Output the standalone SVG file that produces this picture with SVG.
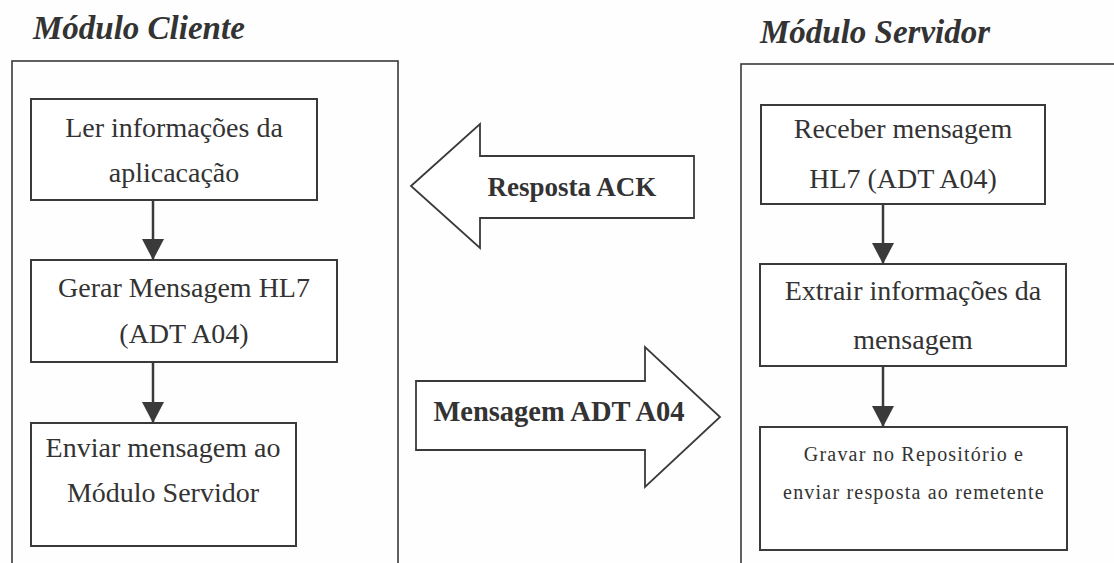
<svg xmlns="http://www.w3.org/2000/svg" width="1114" height="563" viewBox="0 0 1114 563">
  <style>
    text { font-family: "Liberation Serif", "DejaVu Serif", serif; fill: #333333; }
    .module { fill: none; stroke: #3a3a3a; stroke-width: 1.6; }
    .step { fill: #ffffff; stroke: #3a3a3a; stroke-width: 2; }
    .title { font-weight: bold; font-style: italic; font-size: 33px; }
    .label { font-size: 28px; text-anchor: middle; }
    .small { font-size: 20px; letter-spacing: 1.2px; text-anchor: middle; }
    .flow { fill: none; stroke: #3a3a3a; stroke-width: 2.5; }
    .block { fill: #ffffff; stroke: #3a3a3a; stroke-width: 1.8; stroke-linejoin: miter; }
    .blocklabel { font-weight: bold; text-anchor: middle; }
  </style>
  <defs>
    <marker id="head" markerUnits="userSpaceOnUse" viewBox="0 0 21 22" refX="21" refY="11" markerWidth="21" markerHeight="22" orient="auto">
      <path d="M0,0 L21,11 L0,22 Z" fill="#3a3a3a"/>
    </marker>
  </defs>
  <rect width="1114" height="563" fill="#fefefe"/>

  <!-- Client module -->
  <g id="modulo-cliente">
    <rect class="module" x="12" y="61" width="386" height="530"/>
    <text class="title" x="33" y="39">Módulo Cliente</text>
  </g>
  <g id="ler-informacoes">
    <rect class="step" x="31" y="99" width="286" height="101"/>
    <text class="label" x="174" y="137">Ler informações da</text>
    <text class="label" x="174" y="182">aplicacação</text>
  </g>
  <g id="gerar-mensagem">
    <rect class="step" x="31" y="260" width="306" height="102"/>
    <text class="label" x="184" y="297">Gerar Mensagem HL7</text>
    <text class="label" x="184" y="343">(ADT A04)</text>
  </g>
  <g id="enviar-mensagem">
    <rect class="step" x="31" y="423" width="265" height="123"/>
    <text class="label" x="163" y="457">Enviar mensagem ao</text>
    <text class="label" x="163" y="502">Módulo Servidor</text>
  </g>

  <!-- Server module -->
  <g id="modulo-servidor">
    <rect class="module" x="741" y="64" width="400" height="530"/>
    <text class="title" x="760" y="43">Módulo Servidor</text>
  </g>
  <g id="receber-mensagem">
    <rect class="step" x="761" y="105" width="284" height="99"/>
    <text class="label" x="903" y="138">Receber mensagem</text>
    <text class="label" x="903" y="188">HL7 (ADT A04)</text>
  </g>
  <g id="extrair-informacoes">
    <rect class="step" x="760" y="264" width="306" height="102"/>
    <text class="label" x="913" y="300">Extrair informações da</text>
    <text class="label" x="913" y="349">mensagem</text>
  </g>
  <g id="gravar-repositorio">
    <rect class="step" x="760" y="427" width="307" height="123"/>
    <text class="small" x="914" y="461">Gravar no Repositório e</text>
    <text class="small" x="914" y="499">enviar resposta ao remetente</text>
  </g>

  <!-- Connectors -->
  <g id="connectors">
    <line class="flow" x1="153" y1="200" x2="153" y2="260" marker-end="url(#head)"/>
    <line class="flow" x1="153" y1="362" x2="153" y2="423" marker-end="url(#head)"/>
    <line class="flow" x1="883" y1="204" x2="883" y2="264" marker-end="url(#head)"/>
    <line class="flow" x1="883" y1="366" x2="883" y2="427" marker-end="url(#head)"/>

    <g id="resposta-ack">
      <polygon class="block" points="411,186 480,124 480,156 694,156 694,218 480,218 480,248"/>
      <text class="blocklabel" x="572" y="196" font-size="27">Resposta ACK</text>
    </g>
    <g id="mensagem-adt">
      <polygon class="block" points="416,381 645,381 645,347 720,417 645,487 645,450 416,450"/>
      <text class="blocklabel" x="559" y="421" font-size="28.5">Mensagem ADT A04</text>
    </g>
  </g>
</svg>
